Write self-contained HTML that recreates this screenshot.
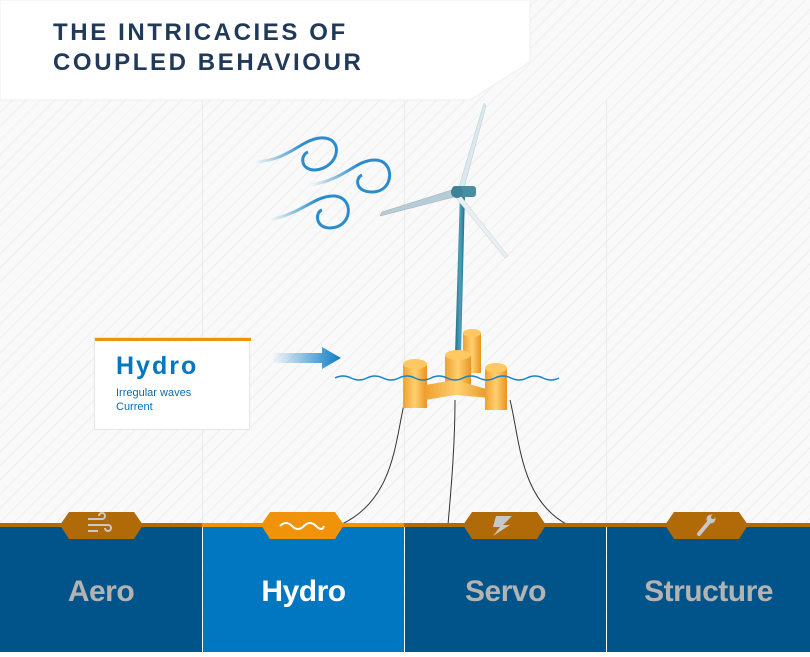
<!DOCTYPE html>
<html><head><meta charset="utf-8"><style>
body{margin:0;width:810px;height:652px;overflow:hidden;font-family:"Liberation Sans",sans-serif;}
.bg{position:absolute;left:0;top:0;width:810px;height:652px;background-color:#f9f9f9;
background-image:repeating-linear-gradient(135deg,transparent 0 9px,#efefef 9px 10px);}
.col{position:absolute;top:100px;height:430px;width:1px;background:#ebebeb}
.title{position:absolute;left:53px;top:18px;font-weight:bold;font-size:24px;letter-spacing:2.6px;color:#213a5a;line-height:30px}
.panel{position:absolute;top:527px;height:125px;background:#00548a;color:#b3b3b3;font-weight:bold;font-size:30px;text-align:center;line-height:130px;letter-spacing:-0.5px}
.box{position:absolute;left:94px;top:337px;width:156px;height:93px;background:#fff;border:1px solid #e6e6e6;box-sizing:border-box}
</style></head><body>
<div class="bg"></div>
<svg style="position:absolute;left:0;top:0" width="810" height="110"><polygon points="0,0 530,0 530,62 470,100 0,100" fill="#fff" stroke="#eee"/></svg>
<div class="title">THE INTRICACIES OF<br>COUPLED BEHAVIOUR</div>
<div class="col" style="left:202px"></div><div class="col" style="left:404px"></div><div class="col" style="left:606px"></div>
<div class="box"><div style="position:absolute;left:0;top:0;width:156px;height:3px;background:#f0920a"></div>
<div style="position:absolute;left:21px;top:14px;font-size:25px;font-weight:bold;letter-spacing:2px;color:#0077c0">Hydro</div>
<div style="position:absolute;left:21px;top:48px;font-size:11px;line-height:14px;color:#0a6bb0">Irregular waves<br>Current</div></div>
<svg style="position:absolute;left:0;top:0" width="810" height="652">
<defs>
<linearGradient id="ar" x1="0" x2="1"><stop offset="0" stop-color="#0a7cc4" stop-opacity="0"/><stop offset="1" stop-color="#0a7cc4"/></linearGradient>
<linearGradient id="or" x1="0" x2="1"><stop offset="0" stop-color="#f0a030"/><stop offset=".5" stop-color="#ffd070"/><stop offset="1" stop-color="#e89420"/></linearGradient>
<linearGradient id="tw" x1="0" x2="1"><stop offset="0" stop-color="#1d6d8a"/><stop offset=".5" stop-color="#4ea0b8"/><stop offset="1" stop-color="#1d6d8a"/></linearGradient>
<linearGradient id="wd" x1="0" x2="1"><stop offset="0" stop-color="#2a8ccc" stop-opacity="0"/><stop offset=".6" stop-color="#2a8ccc"/></linearGradient>
</defs>
<g fill="none" stroke="url(#wd)" stroke-width="3">
<path d="M255,162 C290,160 300,140 320,138 C345,136 340,168 315,170 C300,170 300,155 308,152"/>
<path d="M310,185 C345,180 355,160 375,160 C395,160 395,192 372,192 C355,192 355,178 362,175"/>
<path d="M270,220 C305,212 315,195 335,196 C355,198 352,228 330,228 C315,228 315,212 322,210"/>
</g>
<path d="M272,353 H322 V347 L341,358 L322,369 V363 H272 Z" fill="url(#ar)"/>
<g stroke="#333" stroke-width="1" fill="none">
<path d="M405,400 C395,440 395,500 340,525"/><path d="M455,400 C455,450 450,500 448,525"/><path d="M510,400 C520,440 520,500 568,525"/></g>
<polygon points="455,355 461,355 465,192 460,192" fill="url(#tw)"/>
<polygon points="458,190 484,103 486,106 463,192" fill="#dce8ee" stroke="#b8cdd6" stroke-width=".5"/>
<polygon points="458,188 382,212 380,216 458,196" fill="#b6ccd6" stroke="#9ab" stroke-width=".5"/>
<polygon points="460,195 508,256 505,258 456,198" fill="#e8f0f4" stroke="#b8cdd6" stroke-width=".5"/>
<rect x="452" y="186" width="24" height="11" rx="3" fill="#4a8ca2"/><circle cx="457" cy="192" r="6" fill="#3f8196"/>
<rect x="403" y="364" width="24" height="44" fill="url(#or)"/><ellipse cx="415" cy="364" rx="12" ry="5" fill="#ffc860"/>
<rect x="463" y="333" width="18" height="40" fill="url(#or)"/><ellipse cx="472" cy="333" rx="9" ry="4" fill="#ffc860"/>
<rect x="445" y="355" width="26" height="40" fill="url(#or)"/><ellipse cx="458" cy="355" rx="13" ry="5" fill="#ffc860"/>
<polygon points="425,385 455,380 490,390 490,398 455,395 425,400" fill="url(#or)"/>
<rect x="485" y="368" width="22" height="42" fill="url(#or)"/><ellipse cx="496" cy="368" rx="11" ry="5" fill="#ffc860"/>
<path d="M335,378 q8,-4 16,0 t16,0 t16,0 t16,0 t16,0 t16,0 t16,0 t16,0 t16,0 t16,0 t16,0 t16,0 t16,0 t16,0" fill="none" stroke="#1a82c8" stroke-width="1.5"/>
<rect x="0" y="523" width="810" height="4" fill="#b06a08"/><rect x="202" y="523" width="202" height="4" fill="#f0920a"/>
</svg>
<div class="panel" style="left:0;width:202px">Aero</div>
<div class="panel" style="left:203px;width:201px;background:#0077c0;color:#fff">Hydro</div>
<div class="panel" style="left:405px;width:201px">Servo</div>
<div class="panel" style="left:607px;width:203px">Structure</div>
<svg style="position:absolute;left:0;top:0" width="810" height="652">
<g fill="#b06a08">
<polygon points="69,512 134,512 143,525 134,539 69,539 60,525"/>
<polygon points="472,512 537,512 546,525 537,539 472,539 463,525"/>
<polygon points="674,512 739,512 748,525 739,539 674,539 665,525"/></g>
<polygon points="270,512 335,512 344,525 335,539 270,539 261,525" fill="#f0920a"/>
<path d="M280,526 q6,-6 12,0 t12,0 t12,0 t8,0" fill="none" stroke="#fff" stroke-width="2"/>
<g stroke="#c8c8c8" stroke-width="2" fill="none"><path d="M88,519 h14 a3,3 0 1 0 -3,-3 M88,525 h20 a3,3 0 1 1 -3,3 M88,531 h10"/></g>
<polygon points="496,516 512,516 503,525 510,525 493,536 500,527 493,527" fill="#c8c8c8"/>
<path d="M699,534 L709,522" stroke="#c8c8c8" stroke-width="4" stroke-linecap="round"/><circle cx="711" cy="519" r="4.5" fill="#c8c8c8"/><circle cx="713" cy="517" r="2" fill="#b06a08"/>
</svg>
</body></html>
